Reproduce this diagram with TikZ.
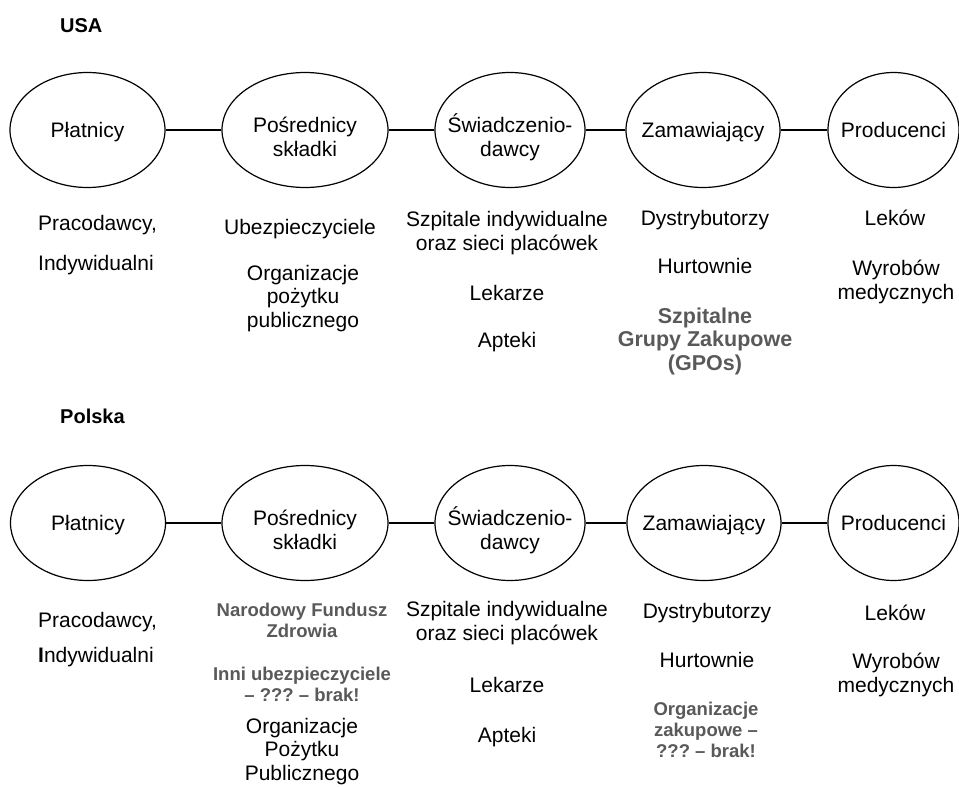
\documentclass[tikz,border=0pt]{standalone}
\usepackage{fontspec}
\setmainfont{Liberation Sans}
\usetikzlibrary{shapes.geometric}
\definecolor{notegray}{RGB}{89,89,89}
\frenchspacing

\begin{document}
\begin{tikzpicture}[x=1pt, y=-1pt, font=\fontsize{21}{23.5}\selectfont]

        % Setup the styles for the stages and the texts below them
        % (a node of several lines sits on the baseline of its last line)
        \tikzset{stage/.style={ellipse,
                               draw,
                               line width=1.2pt,
                               minimum height=115pt,
                               inner ysep=0pt,
                               inner xsep=-30pt,
                               text height=20pt,
                               text depth=4.5pt,
                               align=center},
                 twoline/.style={text height=57pt},
                 item/.style={anchor=base, inner sep=0pt, align=center},
                 lefty/.style={anchor=base west, inner sep=0pt, align=left},
                 note/.style={item, text=notegray,
                              font=\bfseries\fontsize{21.5}{23.5}\selectfont},
                 smallnote/.style={item, text=notegray,
                                   font=\bfseries\fontsize{18.5}{21}\selectfont},
                 heading/.style={anchor=base west, inner sep=0pt,
                                 font=\bfseries\fontsize{20}{22}\selectfont},
                 link/.style={line width=1.2pt}}

        \useasboundingbox (0,0) rectangle (959,787);

        % USA
        \node[heading] at (60, 32) (usa) {USA};

        \node[stage, minimum width=155pt] at (87.5, 130)  (u1) {Płatnicy};
        \node[stage, twoline, minimum width=166pt] at (305, 130) (u2) {Pośrednicy\\składki};
        \node[stage, twoline, minimum width=150pt] at (510, 130) (u3) {Świadczenio-\\dawcy};
        \node[stage, minimum width=154pt] at (703, 130)   (u4) {Zamawiający};
        \node[stage, minimum width=131pt] at (893.5, 130) (u5) {Producenci};

        \node[lefty] at (38, 270)  (u1a) {Pracodawcy,\\[16.5pt]Indywidualni};
        \node[item] at (300, 234)  (u2a) {Ubezpieczyciele};
        \node[item] at (303, 327)  (u2b) {Organizacje\\pożytku\\publicznego};
        \node[item] at (507, 250)  (u3a) {Szpitale indywidualne\\oraz sieci placówek};
        \node[item] at (507, 300)  (u3b) {Lekarze};
        \node[item] at (507, 347)  (u3c) {Apteki};
        \node[item] at (705, 225)  (u4a) {Dystrybutorzy};
        \node[item] at (705, 273)  (u4b) {Hurtownie};
        \node[note] at (705, 370)  (u4c) {Szpitalne\\Grupy Zakupowe\\(GPOs)};
        \node[item] at (895, 225)  (u5a) {Leków};
        \node[item] at (896, 299)  (u5b) {Wyrobów\\medycznych};

        % Polska
        \node[heading] at (60, 423) (pl) {Polska};

        \node[stage, minimum width=155pt] at (88, 523)    (p1) {Płatnicy};
        \node[stage, twoline, minimum width=166pt] at (305, 523) (p2) {Pośrednicy\\składki};
        \node[stage, twoline, minimum width=150pt] at (510, 523) (p3) {Świadczenio-\\dawcy};
        \node[stage, minimum width=154pt] at (704, 523)   (p4) {Zamawiający};
        \node[stage, minimum width=131pt] at (893.5, 523) (p5) {Producenci};

        \node[lefty] at (38, 662)  (p1a) {Pracodawcy,\\[11.5pt]{\bfseries I}ndywidualni};
        \node[smallnote] at (302, 637) (p2a) {Narodowy Fundusz\\Zdrowia};
        \node[smallnote] at (302, 701) (p2b) {Inni ubezpieczyciele\\– ??? – brak!};
        \node[item] at (302, 780)  (p2c) {Organizacje\\Pożytku\\Publicznego};
        \node[item] at (507, 640)  (p3a) {Szpitale indywidualne\\oraz sieci placówek};
        \node[item] at (507, 692)  (p3b) {Lekarze};
        \node[item] at (507, 742)  (p3c) {Apteki};
        \node[item] at (707, 618)  (p4a) {Dystrybutorzy};
        \node[item] at (707, 667)  (p4b) {Hurtownie};
        \node[smallnote] at (706, 757) (p4c) {Organizacje\\zakupowe –\\??? – brak!};
        \node[item] at (895, 620)  (p5a) {Leków};
        \node[item] at (896, 692)  (p5b) {Wyrobów\\medycznych};

        % Connect the stages
        \draw[link]
            (u1) edge (u2)
            (u2) edge (u3)
            (u3) edge (u4)
            (u4) edge (u5)
            (p1) edge (p2)
            (p2) edge (p3)
            (p3) edge (p4)
            (p4) edge (p5);
\end{tikzpicture}
\end{document}
